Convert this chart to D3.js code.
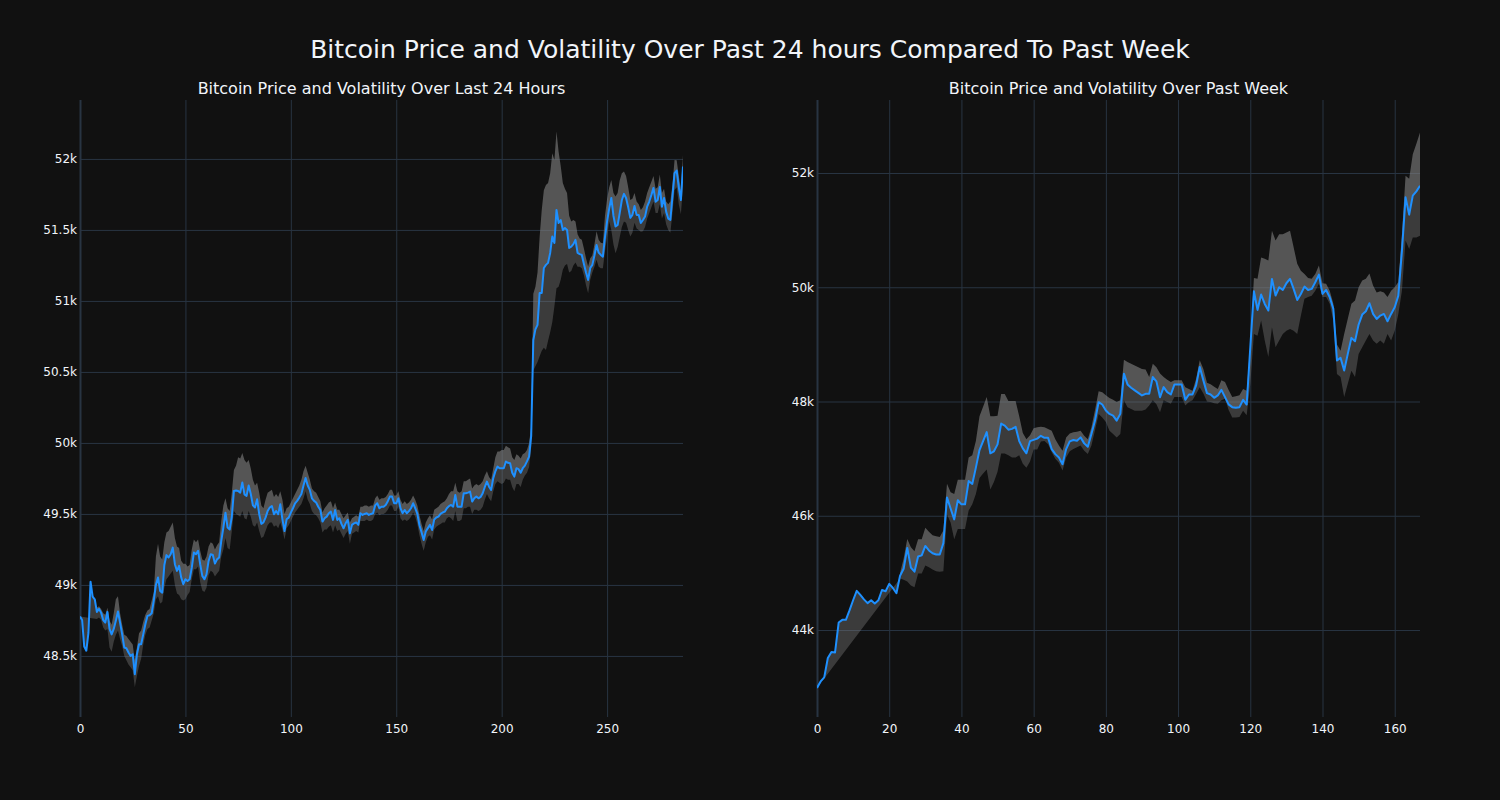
<!DOCTYPE html>
<html>
<head>
<meta charset="utf-8">
<script src="https://cdn.jsdelivr.net/npm/d3@7"></script>
<style>
html,body{margin:0;padding:0;background:#111111;}
svg{display:block;}
text{font-family:"DejaVu Sans",verdana,arial,sans-serif;}
</style>
</head>
<body>
<svg id="chart" width="1500" height="800"></svg>
<script>
const mainTitle = "Bitcoin Price and Volatility Over Past 24 hours Compared To Past Week";
const leftTitle = "Bitcoin Price and Volatility Over Last 24 Hours";
const rightTitle = "Bitcoin Price and Volatility Over Past Week";

const leftXTicks = [0, 50, 100, 150, 200, 250];
const leftYTicks = [48500, 49000, 49500, 50000, 50500, 51000, 51500, 52000];
const rightXTicks = [0, 20, 40, 60, 80, 100, 120, 140, 160];
const rightYTicks = [44000, 46000, 48000, 50000, 52000];

const leftPrice = [
48777,48753,48566,48537,48662,49023,48918,48899,48810,48831,
48805,48753,48735,48810,48690,48652,48690,48747,48813,48735,
48652,48559,48554,48524,48500,48512,48371,48512,48582,48582,
48652,48723,48782,48786,48800,48890,49000,49052,48958,48946,
49140,49210,49193,49216,49263,49146,49099,49134,49052,49005,
49040,49028,49040,49120,49228,49216,49240,49146,49064,49040,
49075,49169,49216,49211,49150,49180,49193,49310,49404,49509,
49404,49390,49480,49662,49665,49662,49650,49721,49638,49627,
49700,49640,49560,49545,49603,49498,49430,49440,49474,49520,
49545,49556,49498,49521,49498,49568,49462,49380,49462,49474,
49509,49540,49575,49592,49615,49640,49700,49753,49700,49669,
49610,49592,49580,49551,49528,49446,49470,49481,49505,49516,
49458,49528,49458,49470,49430,49399,49434,49458,49364,49423,
49434,49440,49423,49505,49493,49500,49505,49493,49500,49505,
49560,49575,49540,49551,49551,49563,49590,49622,49622,49575,
49575,49610,49540,49505,49528,49505,49520,49540,49575,49540,
49500,49420,49370,49317,49376,49400,49423,49387,49460,49475,
49481,49500,49510,49516,49540,49555,49563,49551,49634,49551,
49551,49551,49646,49646,49650,49657,49587,49610,49622,49610,
49620,49646,49690,49728,49692,49669,49751,49800,49833,49822,
49822,49822,49869,49860,49857,49790,49763,49822,49815,49790,
49822,49840,49870,49904,50050,50725,50800,50831,51056,51056,
51232,51254,51268,51338,51453,51408,51641,51549,51570,51500,
51514,51500,51373,51382,51400,51430,51338,51330,51324,51260,
51200,51148,51232,51254,51320,51394,51340,51324,51312,51450,
51560,51650,51725,51600,51524,51535,51620,51711,51754,51725,
51660,51585,51606,51669,51606,51606,51549,51570,51594,51664,
51700,51746,51796,51699,51711,51803,51664,51725,51629,51580,
51570,51734,51900,51918,51800,51711,51946
];

const leftUpper = [
null,null,null,null,null,null,null,null,48840,48850,
48830,48800,48790,48840,48750,48720,48800,48900,48920,48800,
48720,48650,48640,48620,48600,48580,48470,48560,48660,48680,
48740,48790,48820,48830,48890,48950,49200,49290,49200,49180,
49300,49370,49380,49410,49440,49330,49270,49260,49170,49150,
49150,49130,49140,49250,49320,49300,49320,49240,49180,49170,
49200,49270,49300,49290,49250,49280,49300,49450,49560,49610,
49540,49520,49650,49810,49840,49900,49890,49930,49880,49860,
49880,49820,49740,49700,49720,49650,49560,49540,49600,49650,
49660,49670,49620,49640,49620,49660,49600,49500,49540,49550,
49580,49610,49640,49670,49700,49740,49800,49840,49790,49740,
49680,49660,49650,49620,49590,49510,49540,49560,49580,49590,
49540,49580,49530,49530,49500,49470,49490,49510,49440,49470,
49480,49490,49480,49550,49550,49560,49560,49550,49560,49560,
49610,49630,49600,49610,49610,49620,49640,49670,49670,49630,
49630,49660,49600,49570,49590,49570,49580,49600,49630,49600,
49560,49490,49430,49380,49440,49470,49490,49460,49530,49540,
49550,49570,49580,49590,49610,49640,49660,49660,49720,49660,
49650,49660,49730,49730,49740,49750,49680,49700,49710,49700,
49710,49730,49770,49800,49760,49740,49820,49900,49940,49940,
49950,49950,49980,49970,49960,49900,49880,49920,49910,49890,
49920,49930,49950,50000,50120,51050,51100,51200,51450,51640,
51780,51817,51830,51900,52040,51993,52193,52050,51950,51830,
51790,51760,51600,51560,51570,51560,51470,51440,51430,51370,
51300,51242,51300,51320,51400,51490,51430,51410,51406,51600,
51720,51800,51852,51760,51735,51760,51850,51900,51911,51880,
51800,51711,51720,51760,51700,51680,51641,51660,51700,51760,
51800,51840,51880,51790,51800,51890,51760,51790,51700,51680,
51700,51820,51993,51990,51880,51780,52028
];

const leftLower = [
null,null,null,null,null,null,null,null,48760,48770,
48755,48700,48680,48690,48560,48530,48600,48650,48680,48620,
48570,48500,48470,48440,48420,48400,48280,48360,48430,48480,
48580,48650,48690,48700,48750,48800,48900,48920,48870,48880,
48980,49040,49060,49080,49100,49000,48940,48930,48900,48890,
48900,48930,48950,49040,49110,49110,49130,49020,48960,48950,
48980,49070,49100,49090,49060,49080,49100,49200,49250,49330,
49260,49250,49380,49520,49500,49490,49480,49520,49470,49460,
49520,49480,49420,49410,49440,49380,49330,49340,49380,49420,
49440,49440,49410,49420,49400,49440,49390,49320,49400,49420,
49450,49480,49510,49530,49550,49570,49610,49660,49600,49570,
49520,49500,49490,49470,49440,49370,49390,49390,49410,49420,
49370,49420,49380,49390,49360,49330,49360,49380,49290,49360,
49370,49380,49370,49450,49450,49450,49460,49450,49450,49460,
49500,49510,49490,49500,49500,49510,49530,49560,49560,49520,
49520,49550,49470,49450,49460,49450,49460,49480,49510,49480,
49430,49350,49290,49240,49300,49340,49350,49320,49390,49410,
49420,49430,49440,49440,49470,49480,49470,49450,49520,49450,
49450,49460,49540,49540,49550,49550,49500,49530,49530,49520,
49530,49550,49600,49640,49610,49590,49660,49710,49730,49720,
49710,49720,49750,49740,49740,49690,49660,49710,49710,49690,
49740,49770,49790,49830,49970,50510,50540,50570,50610,50650,
50670,50655,50720,50780,50850,50960,51090,51100,51150,51220,
51250,51260,51200,51210,51250,51270,51240,51240,51230,51180,
51110,51054,51150,51200,51240,51290,51240,51230,51230,51350,
51450,51560,51500,51400,51336,51380,51450,51520,51560,51550,
51500,51453,51480,51550,51510,51500,51488,51490,51520,51580,
51620,51660,51700,51620,51620,51680,51580,51620,51540,51500,
51480,51620,51782,51800,51680,51610,51805
];

const rightPrice = [
42986,43100,43170,43510,43614,43607,44130,44178,44178,44343,
44521,44686,44614,44536,44471,44521,44464,44521,44700,44678,
44807,44736,44643,44950,45071,45436,45093,45021,45286,45307,
45471,45393,45343,45321,45321,45521,46321,46128,45936,46271,
46200,46200,46607,46557,46843,47150,47307,47464,47093,47129,
47250,47614,47579,47507,47521,47557,47307,47179,47093,47307,
47329,47350,47400,47364,47364,47167,47079,47021,46903,47167,
47302,47326,47314,47372,47267,47208,47431,47666,47988,47947,
47842,47783,47754,47666,47783,48487,48299,48240,48194,48150,
48106,48135,48135,48428,48352,48076,48252,48164,48123,48299,
48299,48299,48029,48123,48123,48282,48604,48370,48147,48123,
48065,48106,48204,48076,47950,47901,47889,47901,48029,47947,
48950,49930,49603,49872,49708,49592,50146,49854,50000,49953,
50070,50146,49971,49778,49883,50012,49953,49971,50087,50222,
49883,49953,49825,49621,48717,48764,48542,48834,49114,49055,
49347,49522,49580,49720,49533,49446,49504,49533,49405,49533,
49650,49854,50641,51574,51271,51604,51679,51778
];

const rightUpper = [
null,null,null,null,null,null,null,null,null,null,
null,null,null,null,null,null,null,null,null,null,
null,null,null,45000,45250,45593,45450,45380,45590,45590,
45790,45720,45660,45640,45630,45740,46560,46410,46380,46630,
46630,46630,47020,47060,47310,47740,47910,48080,47740,47740,
47750,48130,48130,48010,48010,48010,47740,47450,47340,47410,
47530,47550,47560,47550,47520,47490,47340,47230,47140,47370,
47440,47460,47470,47490,47400,47340,47550,47850,48180,48160,
48110,48060,48030,47990,48020,48730,48690,48660,48630,48600,
48570,48560,48430,48660,48600,48490,48430,48380,48340,48370,
48370,48370,48250,48220,48190,48400,48720,48570,48330,48300,
48260,48220,48370,48340,48200,48080,48090,48110,48220,48190,
49000,50160,50150,50520,50500,50470,50990,50820,50930,50930,
50960,50990,50700,50410,50290,50230,50160,50150,50230,50380,
50070,50060,49940,49710,49000,48890,49180,49450,49710,49770,
50000,50120,50150,50240,50030,49910,49930,49910,49830,49940,
50000,50090,50930,51950,51900,52330,52510,52710
];

const rightLower = [
null,null,null,null,null,null,null,null,null,null,
null,null,null,null,null,null,null,null,null,null,
null,null,null,44900,44880,44850,44780,44750,44990,44990,
45130,45100,45060,45030,45020,45030,46020,45880,45590,45770,
45770,45770,46090,46200,46380,46660,46740,46810,46460,46590,
46770,47090,47090,47060,47020,47020,47060,46910,46840,46950,
47160,47160,47300,47310,47250,47110,47000,46930,46790,47020,
47130,47170,47200,47230,47140,47080,47230,47500,47780,47720,
47640,47490,47430,47370,47430,48020,47900,47870,47840,47840,
47840,47860,47930,48020,47950,47810,48020,47990,47960,48080,
48080,48080,47930,47990,48020,48130,48250,48140,48000,47990,
47970,47960,48020,48050,47850,47720,47720,47730,47840,47760,
48300,49180,49150,49420,49070,48780,49300,48950,49070,49180,
49240,49270,49240,49180,49500,49800,49830,49850,49940,50060,
49830,49830,49710,49420,48480,48430,48080,48310,48540,48430,
48830,48950,49070,49180,49070,49010,49070,49010,49180,49070,
49240,49530,49940,50820,50670,50870,50870,50900
];

const FONT = '"DejaVu Sans",verdana,arial,sans-serif';
const svg = d3.select("#chart");
svg.append("rect").attr("width",1500).attr("height",800).attr("fill","#111111");

const GRID = "#283442";
const FONT_COLOR = "#f2f5fa";

svg.append("text").attr("x",750).attr("y",58).attr("text-anchor","middle")
  .attr("fill",FONT_COLOR).attr("font-size",25).attr("font-family",FONT).text(mainTitle);

function drawPanel(cfg){
  const {id, left, top, width, height, price, upper, lower, yDomain, xTicks, yTicks, title} = cfg;
  const n = price.length;
  const x = d3.scaleLinear().domain([0, n-1]).range([left, left+width]);
  const y = d3.scaleLinear().domain(yDomain).range([top+height, top]);
  const g = svg.append("g");

  const yAxis = d3.axisLeft(y).tickValues(yTicks).tickSize(-width).tickPadding(3)
    .tickFormat(v => (v/1000) + "k");
  const ya = g.append("g").attr("transform",`translate(${left},0)`).call(yAxis);
  ya.select(".domain").remove();
  ya.selectAll("line").attr("stroke",GRID).attr("stroke-width",1);
  ya.selectAll("text").attr("fill",FONT_COLOR).attr("font-size",12).attr("font-family",FONT);

  const xAxis = d3.axisBottom(x).tickValues(xTicks).tickSize(-height).tickPadding(7)
    .tickFormat(d3.format("d"));
  const xa = g.append("g").attr("transform",`translate(0,${top+height})`).call(xAxis);
  xa.select(".domain").remove();
  xa.selectAll("line").attr("stroke",GRID).attr("stroke-width", d => d === 0 ? 2 : 1);
  xa.selectAll("text").attr("fill",FONT_COLOR).attr("font-size",12).attr("font-family",FONT);

  svg.append("clipPath").attr("id","clip"+id).append("rect")
    .attr("x",left).attr("y",top).attr("width",width).attr("height",height);
  const plot = svg.append("g").attr("clip-path",`url(#clip${id})`);

  const k = upper.findIndex(v => v !== null);
  const line = d3.line();

  const darkPts = [];
  for (let i = k; i < n; i++) darkPts.push([x(i), y(lower[i])]);
  for (let i = n-1; i >= 0; i--) darkPts.push([x(i), y(price[i])]);
  plot.append("path").attr("d", line(darkPts) + "Z")
    .attr("fill","#808080").attr("fill-opacity",0.38).attr("stroke","none");

  const lightPts = [];
  for (let i = k; i < n; i++) lightPts.push([x(i), y(upper[i])]);
  for (let i = n-1; i >= k; i--) lightPts.push([x(i), y(price[i])]);
  plot.append("path").attr("d", line(lightPts) + "Z")
    .attr("fill","#808080").attr("fill-opacity",0.62).attr("stroke","none");

  plot.append("path").datum(price)
    .attr("d", d3.line().x((d,i)=>x(i)).y(d=>y(d)))
    .attr("fill","none").attr("stroke","#1e90ff").attr("stroke-width",2)
    .attr("stroke-linejoin","round");

  svg.append("text").attr("x",left+width/2).attr("y",top-6).attr("text-anchor","middle")
    .attr("fill",FONT_COLOR).attr("font-size",16).attr("font-family",FONT).text(title);
}

drawPanel({id:"L", left:80, top:100, width:603, height:617,
  price:leftPrice, upper:leftUpper, lower:leftLower,
  yDomain:[48070,52415], xTicks:leftXTicks, yTicks:leftYTicks, title:leftTitle});

drawPanel({id:"R", left:817, top:100, width:603, height:617,
  price:rightPrice, upper:rightUpper, lower:rightLower,
  yDomain:[42477,53278], xTicks:rightXTicks, yTicks:rightYTicks, title:rightTitle});
</script>
</body>
</html>
